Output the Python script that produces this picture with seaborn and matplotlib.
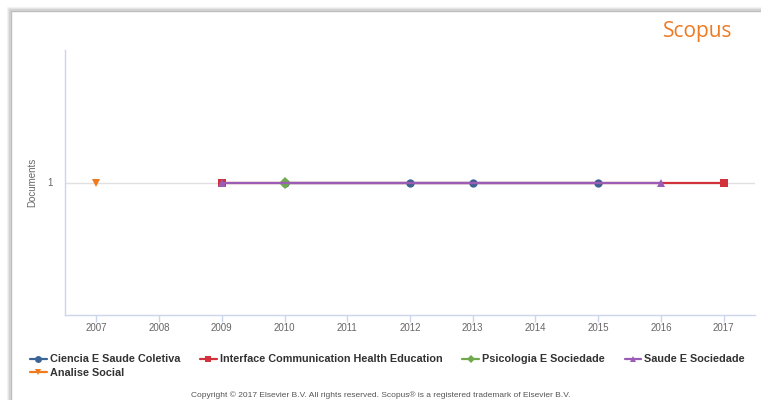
import matplotlib
matplotlib.use("Agg")
import matplotlib.pyplot as plt
import seaborn as sns
import pandas as pd
from matplotlib.patches import Rectangle

# documents per year, one list per source
years = list(range(2007, 2018))
ciencia_years = [2010, 2012, 2013, 2015]
interface_years = [2009, 2017]
psicologia_years = [2010]
saude_years = [2009, 2016]
analise_years = [2007]

sources = ["Ciencia E Saude Coletiva", "Interface Communication Health Education",
           "Psicologia E Sociedade", "Saude E Sociedade", "Analise Social"]
colors = ["#3c6597", "#d1323c", "#6fa84d", "#9a5cb4", "#f07a1e"]
markers = ["o", "s", "D", "^", "v"]

rows = []
for name, yrs in zip(sources, [ciencia_years, interface_years, psicologia_years,
                               saude_years, analise_years]):
    for y in yrs:
        rows.append({"year": y, "documents": 1, "source": name})
df = pd.DataFrame(rows)

sns.set_style("white")
plt.rcParams["font.family"] = ["Liberation Sans", "DejaVu Sans"]

fig = plt.figure(figsize=(7.61, 4.0), dpi=100)

# card border with soft shadow
for off, c in [(3, "#f0f0f0"), (2, "#e2e2e2"), (1, "#cfcfcf")]:
    fig.patches.append(Rectangle((11 - off, -5), 760, 394 + off, transform=None,
                                 facecolor="none", edgecolor=c, lw=1.2, zorder=-2))
fig.patches.append(Rectangle((11, -5), 760, 394, transform=None,
                             facecolor="white", edgecolor="#bdbdbd", lw=1.0, zorder=-1))

ax = fig.add_axes([65 / 761, 1 - 315 / 400, 690 / 761, 265 / 400])
ax.set_facecolor("none")
sns.lineplot(data=df, x="year", y="documents", hue="source", style="source",
             hue_order=sources, style_order=sources, palette=colors,
             markers=dict(zip(sources, markers)), dashes=False, lw=1.6,
             markersize=6, markeredgewidth=0, ax=ax, legend=True, zorder=3)

ax.set_xlim(2006.5, 2017.5)
ax.set_ylim(0, 2)
ax.set_xticks(years)
ax.set_xticklabels([str(y) for y in years])
ax.set_yticks([1])
ax.yaxis.grid(True, color="#e0e0e0", lw=1)
ax.tick_params(axis="x", bottom=True, length=5, width=1, color="#ccd6eb", labelsize=7,
               labelcolor="#666666", pad=1)
ax.tick_params(axis="y", left=False, length=0, labelsize=7, labelcolor="#666666", pad=9)
for s in ["top", "right"]:
    ax.spines[s].set_visible(False)
for s in ["left", "bottom"]:
    ax.spines[s].set_color("#ccd6eb")
    ax.spines[s].set_linewidth(1)
ax.set_xlabel("")
ax.set_ylabel("Documents", fontsize=7, color="#666666", labelpad=7)

handles, labels = ax.get_legend_handles_labels()
ax.get_legend().remove()
# legend fills column-first, so reorder to read row-first
order = [0, 4, 1, 2, 3]
for h in handles:
    h.set_markersize(5)
handles[2].set_markersize(4.5)
leg = fig.legend([handles[i] for i in order], [labels[i] for i in order],
                 loc="upper left", bbox_to_anchor=(26 / 761, 1 - 350 / 400),
                 ncol=4, frameon=False, fontsize=7.8, handlelength=1.5, handletextpad=0.3,
                 columnspacing=1.85, labelspacing=0.3, borderaxespad=0)
for t in leg.get_texts():
    t.set_fontweight("bold")
    t.set_color("#333333")

fig.text(663 / 761, 1 - 31 / 400, "Scopus", fontsize=15, color="#ef7a22",
         family=["Open Sans", "DejaVu Sans"], va="center", ha="left")
fig.text(381 / 761, 1 - 395 / 400, "Copyright \u00a9 2017 Elsevier B.V. All rights reserved. "
         "Scopus\u00ae is a registered trademark of Elsevier B.V.",
         fontsize=6, color="#555555", ha="center", va="center")

fig.savefig("out.png", dpi=100)
